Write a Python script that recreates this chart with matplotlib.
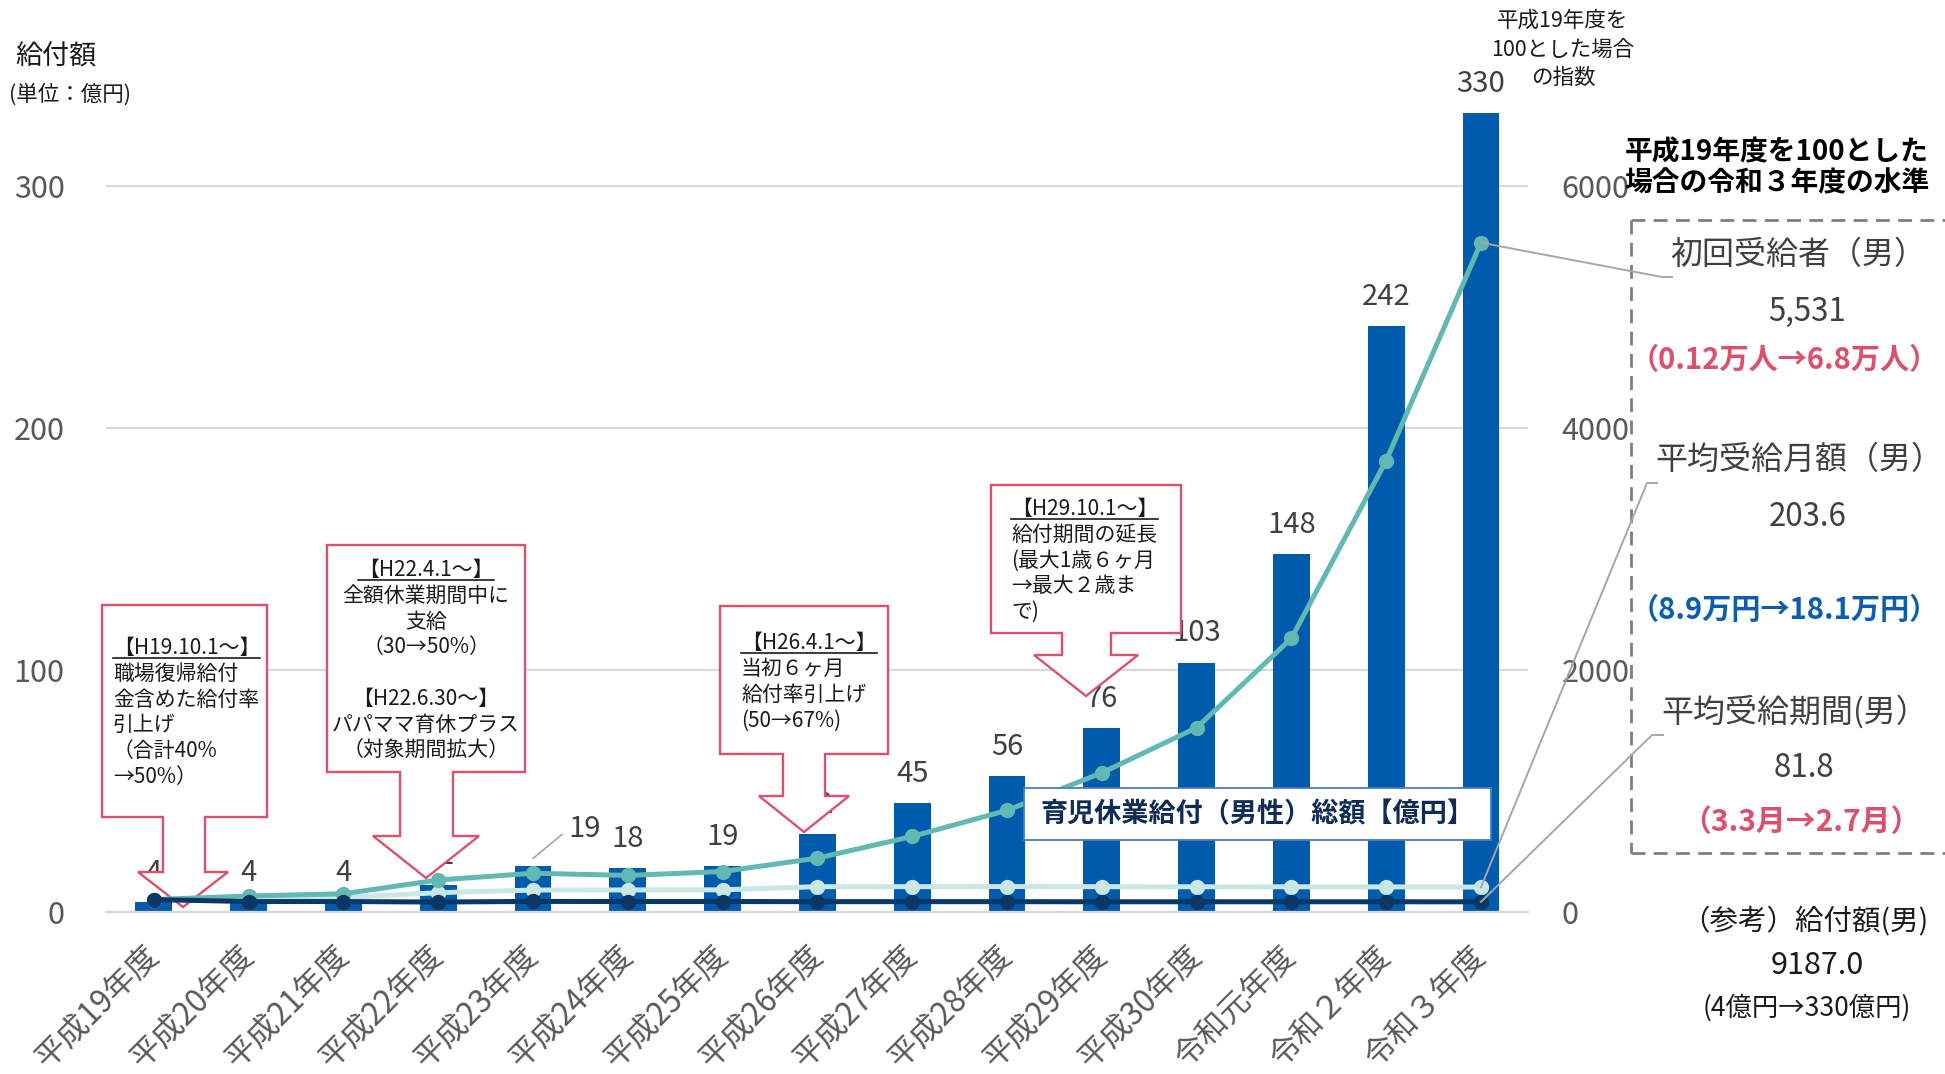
import matplotlib.pyplot as plt
from matplotlib.lines import Line2D
from matplotlib.patches import Polygon, Rectangle

plt.rcParams['font.family'] = ['Noto Sans CJK JP', 'DejaVu Sans']

W, H = 1945, 1074  # size of the picture in pixels

# data
years = ['平成19年度', '平成20年度', '平成21年度', '平成22年度', '平成23年度',
         '平成24年度', '平成25年度', '平成26年度', '平成27年度', '平成28年度',
         '平成29年度', '平成30年度', '令和元年度', '令和２年度', '令和３年度']
amount = [4, 4, 4, 11, 19, 18, 19, 32, 45, 56, 76, 103, 148, 242, 330]  # 億円
first_recipients = [100, 130, 148, 262, 318, 300, 332, 443, 622, 838, 1148, 1521, 2260, 3730, 5531]
monthly_amount = [100, 110, 118, 157, 179, 180, 181, 207, 207, 208, 207, 206, 206, 205, 203.6]
benefit_period = [100, 84, 84, 80, 85, 84, 84, 83, 83, 83, 82, 82, 82, 82, 81.8]
left_ticks = [0, 100, 200, 300]
right_ticks = [0, 2000, 4000, 6000]

BAR = '#005BAC'
TEAL = '#62B9B3'
LIGHT = '#C9E7E5'
DARK = '#0A3766'
PINK = '#DC506E'
GREY = '#595959'


def fxy(x, y):
    """pixel position counted from the top left -> figure fraction"""
    return x / W, 1 - y / H


fig = plt.figure(figsize=(W / 100, H / 100), dpi=100)
ax = fig.add_axes([106.4 / W, 1 - 911.7 / H, 1422 / W, 834.6 / H])
ax2 = ax.twinx()

x = list(range(len(years)))

# bars
ax.bar(x, amount, width=0.39, color=BAR, zorder=2)
ax.set_xlim(-0.5, len(years) - 0.5)
ax.set_ylim(0, 345)
ax2.set_ylim(0, 6900)

# bar value labels (平成23年度 one was moved aside with a leader line)
moved = {4: (37, 21)}
for i, v in enumerate(amount):
    if i in moved:
        ax.annotate(str(v), (i, v + 3), xytext=moved[i], textcoords='offset points',
                    ha='center', va='center', fontsize=21, color='#404040', zorder=3,
                    arrowprops=dict(arrowstyle='-', color='#a6a6a6', lw=1.2,
                                    relpos=(0, 0.5), shrinkA=3, shrinkB=0))
    else:
        ax.annotate(str(v), (i, v), xytext=(0, 21), textcoords='offset points',
                    ha='center', va='center', fontsize=21, color='#404040', zorder=3)

# axes styling
ax.set_yticks(left_ticks)
ax2.set_yticks(right_ticks)
ax.yaxis.grid(True, color='#d9d9d9', lw=1.6)
ax.set_axisbelow(True)
for sp in ['top', 'left', 'right']:
    ax.spines[sp].set_visible(False)
    ax2.spines[sp].set_visible(False)
ax2.spines['bottom'].set_visible(False)
ax.spines['bottom'].set_color('#d9d9d9')
ax.spines['bottom'].set_linewidth(1.6)
ax.tick_params(axis='y', length=0, pad=30, labelsize=22, labelcolor=GREY)
ax2.tick_params(axis='y', length=0, pad=24, labelsize=22, labelcolor=GREY)
ax.set_xticks(x, years, rotation=45, ha='right', va='center', rotation_mode='anchor')
ax.tick_params(axis='x', length=0, pad=28, labelsize=22.5, labelcolor=GREY)
for lab in ax2.get_yticklabels():
    lab.set_ha('left')

# index lines (平成19年度 = 100)
ax2.plot(x, monthly_amount, color=LIGHT, lw=3.6, marker='o', ms=10, zorder=3)
ax2.plot(x, first_recipients, color=TEAL, lw=3.6, marker='o', ms=10, zorder=4)
ax2.plot(x, benefit_period, color=DARK, lw=3.6, marker='o', ms=10, zorder=5)


# down-arrow callouts
def callout(box, stem, head, stem_bottom, tip_y):
    x0, y0, x1, y1 = box
    tip_x = (head[0] + head[1]) / 2
    pts = [(x0, y0), (x1, y0), (x1, y1), (stem[1], y1), (stem[1], stem_bottom),
           (head[1], stem_bottom), (tip_x, tip_y), (head[0], stem_bottom),
           (stem[0], stem_bottom), (stem[0], y1), (x0, y1)]
    poly = Polygon([fxy(px, py) for px, py in pts], closed=True, fc='white', ec=PINK,
                   lw=1.7, transform=fig.transFigure, clip_on=False, zorder=1)
    ax2.add_patch(poly)


callout((102, 605, 267, 817), (163, 205), (138, 228), 872, 907)
callout((327, 545, 525, 772), (400, 453), (373, 479), 836, 878)
callout((720, 606, 888, 754), (783, 825), (759, 849), 796, 832)
callout((991, 485, 1181, 633), (1062, 1111), (1034, 1138), 655, 696)

heads = []


def lines_at(px, py, rows, step=25.8, ha='left', size=15, col='#1a1a1a', keep=True):
    for k, row in enumerate(rows):
        t = fig.text(*fxy(px, py + k * step), row, ha=ha, va='center', fontsize=size,
                     color=col)
        if k == 0 and keep:
            heads.append(t)


lines_at(113, 648, ['【H19.10.1～】', '職場復帰給付', '金含めた給付率', '引上げ',
                    '（合計40%', '→50%）'])
lines_at(426, 570, ['【H22.4.1～】', '全額休業期間中に', '支給', '（30→50%）', '',
                    '【H22.6.30～】', 'パパママ育休プラス', '（対象期間拡大）'], ha='center')
lines_at(741, 643, ['【H26.4.1～】', '当初６ヶ月', '給付率引上げ', '(50→67%)'], step=26)
lines_at(1011, 509, ['【H29.10.1～】', '給付期間の延長', '(最大1歳６ヶ月', '→最大２歳ま', 'で)'])

# series name box
fig.add_artist(Rectangle(fxy(1024, 840), 467 / W, 52 / H, transform=fig.transFigure,
                         fc='white', ec='#4A7EBB', lw=1.3, zorder=5))
fig.text(*fxy(1257, 814), '育児休業給付（男性）総額【億円】', ha='center', va='center',
         fontsize=19.5, fontweight='bold', color='#0E2C55', zorder=6)

# axis titles
fig.text(*fxy(56, 57), '給付額', ha='center', va='center', fontsize=19.5, color='#1a1a1a')
fig.text(*fxy(70, 95), '(単位：億円)', ha='center', va='center', fontsize=15.5, color='#1a1a1a')
lines_at(1563, 21, ['平成19年度を', '100とした場合', 'の指数'], step=28.5, ha='center',
         size=15.5, keep=False)

# right side panel
fig.text(*fxy(1777, 168), '平成19年度を100とした\n場合の令和３年度の水準', ha='center',
         va='center', fontsize=20, fontweight='bold', color='black', linespacing=1.15)
dash = dict(color='#7f7f7f', lw=2, ls=(0, (5, 3)), transform=fig.transFigure)
fig.add_artist(Line2D([1631 / W, 1], [1 - 220 / H] * 2, **dash))
fig.add_artist(Line2D([1631 / W] * 2, [1 - 220 / H, 1 - 853 / H], **dash))
fig.add_artist(Line2D([1631 / W, 1], [1 - 853 / H] * 2, **dash))

panel = [
    ('初回受給者（男）', 255, 23, '#404040', 'normal', 1798),
    ('5,531', 312, 22.5, '#404040', 'normal', 1807),
    ('（0.12万人→6.8万人）', 360, 21, PINK, 'bold', 1784),
    ('平均受給月額（男）', 460, 23, '#404040', 'normal', 1799),
    ('203.6', 517, 22.5, '#404040', 'normal', 1808),
    ('（8.9万円→18.1万円）', 610, 21, '#0B5DAF', 'bold', 1784),
    ('平均受給期間(男）', 712, 23, '#404040', 'normal', 1795),
    ('81.8', 768, 22.5, '#404040', 'normal', 1804),
    ('（3.3月→2.7月）', 822, 21.5, PINK, 'bold', 1801),
    ('（参考）給付額(男)', 922, 20.5, '#1a1a1a', 'normal', 1805),
    ('9187.0', 965, 22, '#1a1a1a', 'normal', 1817),
    ('(4億円→330億円)', 1008, 19, '#1a1a1a', 'normal', 1807),
]
for text, py, size, col, weight, px in panel:
    fig.text(*fxy(px, py), text, ha='center', va='center', fontsize=size, color=col,
             fontweight=weight)


# leader lines from the last points to the panel
def to_fig(xv, yv):
    return fig.transFigure.inverted().transform(ax2.transData.transform((xv, yv)))


leader = dict(color='#a6a6a6', lw=1.4, transform=fig.transFigure, zorder=6)
for series, bend, end in [(first_recipients, (1662, 277), (1672, 277)),
                          (monthly_amount, (1647, 483), (1657, 483)),
                          (benefit_period, (1652, 735), (1663, 735))]:
    start = to_fig(x[-1], series[-1])
    xs = [start[0], bend[0] / W, end[0] / W]
    ys = [start[1], 1 - bend[1] / H, 1 - end[1] / H]
    fig.add_artist(Line2D(xs, ys, **leader))

# underline the date headings in the callouts
fig.canvas.draw()
renderer = fig.canvas.get_renderer()
for t in heads:
    bb = t.get_window_extent(renderer)
    y = (bb.y0 + 1) / H
    fig.add_artist(Line2D([bb.x0 / W, bb.x1 / W], [y, y], color='#1a1a1a', lw=1.2,
                          transform=fig.transFigure))

fig.savefig('out.png', dpi=100)
